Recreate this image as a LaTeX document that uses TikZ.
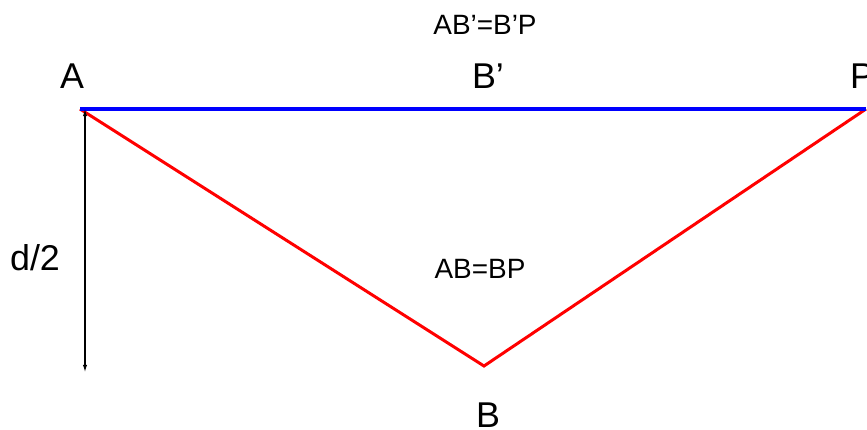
\documentclass[tikz,border=0pt]{standalone}
\usepackage{fontspec}
\setmainfont{Liberation Sans}
\usetikzlibrary{arrows.meta}

\begin{document}
\begin{tikzpicture}[
  x = 0.02cm, y = -0.02cm,
  ptlabel/.style = {anchor=base, inner sep=0pt, font=\fontsize{20.4}{24}\selectfont},
  eqlabel/.style = {anchor=base, inner sep=0pt, font=\fontsize{15.9}{19}\selectfont},
  side/.style    = {line width=1.7pt},
  darrow/.style  = {{Latex[length=4pt,width=2.4pt]}-{Latex[length=4pt,width=2.4pt]}, line width=0.6pt}
]
\useasboundingbox (0,0) rectangle (867,430);

% ── Points ───────────────────────────────────────────────────────────────────
\coordinate (A)    at (80,109);
\coordinate (P)    at (866,109);
\coordinate (B)    at (484,366);
\coordinate (dtop) at (85,109);
\coordinate (dbot) at (85,372);

% ── Triangle sides ───────────────────────────────────────────────────────────
\draw[side, red]  (A) -- (B) -- (P);
\draw[side, blue, line width=2pt] (A) -- (P);

% ── Depth arrow ──────────────────────────────────────────────────────────────
\draw[darrow] (dtop) -- (dbot);

% ── Labels ───────────────────────────────────────────────────────────────────
\node[ptlabel] (labA)  at (72,88)   {A};
\node[ptlabel] (labBp) at (488,88)  {B’};
\node[ptlabel] (labP)  at (862,88)  {P};
\node[ptlabel] (labB)  at (488,427) {B};
\node[ptlabel] (labd)  at (35,270)  {d/2};

\node[eqlabel] (eqtop) at (485,34)  {AB’=B’P};
\node[eqlabel] (eqmid) at (480,278) {AB=BP};

\end{tikzpicture}
\end{document}
